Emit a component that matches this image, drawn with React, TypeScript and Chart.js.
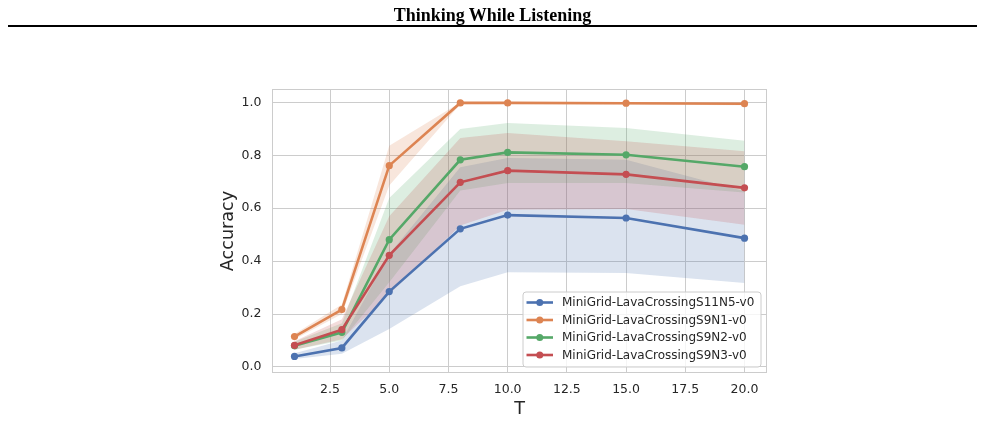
import React, { useEffect, useRef } from "react";
import { Chart, registerables } from "chart.js";

Chart.register(...registerables);

// ---- data ----
const T = [1, 3, 5, 8, 10, 15, 20];

const seriesNames = [
  "MiniGrid-LavaCrossingS11N5-v0",
  "MiniGrid-LavaCrossingS9N1-v0",
  "MiniGrid-LavaCrossingS9N2-v0",
  "MiniGrid-LavaCrossingS9N3-v0",
];

const s11n5Mean = [0.040, 0.072, 0.285, 0.522, 0.574, 0.563, 0.487];
const s11n5Lower = [0.030, 0.050, 0.144, 0.305, 0.358, 0.355, 0.317];
const s11n5Upper = [0.052, 0.100, 0.426, 0.755, 0.790, 0.783, 0.664];

const s9n1Mean = [0.115, 0.217, 0.761, 0.998, 0.998, 0.997, 0.995];
const s9n1Lower = [0.105, 0.200, 0.686, 0.993, 0.994, 0.992, 0.989];
const s9n1Upper = [0.125, 0.236, 0.836, 1.000, 1.000, 1.000, 1.000];

const s9n2Mean = [0.080, 0.131, 0.481, 0.783, 0.811, 0.802, 0.757];
const s9n2Lower = [0.065, 0.100, 0.320, 0.667, 0.695, 0.695, 0.659];
const s9n2Upper = [0.095, 0.165, 0.639, 0.899, 0.922, 0.903, 0.855];

const s9n3Mean = [0.082, 0.141, 0.422, 0.698, 0.742, 0.728, 0.677];
const s9n3Lower = [0.065, 0.105, 0.275, 0.535, 0.594, 0.597, 0.538];
const s9n3Upper = [0.097, 0.180, 0.570, 0.865, 0.884, 0.853, 0.815];

const xTicks = [2.5, 5.0, 7.5, 10.0, 12.5, 15.0, 17.5, 20.0];
const yTicks = [0.0, 0.2, 0.4, 0.6, 0.8, 1.0];

const colors = ["#4C72B0", "#DD8452", "#55A868", "#C44E52"];
const bandColors = [
  "rgba(76,114,176,0.2)",
  "rgba(221,132,82,0.2)",
  "rgba(85,168,104,0.2)",
  "rgba(196,78,82,0.2)",
];

const means = [s11n5Mean, s9n1Mean, s9n2Mean, s9n3Mean];
const lowers = [s11n5Lower, s9n1Lower, s9n2Lower, s9n3Lower];
const uppers = [s11n5Upper, s9n1Upper, s9n2Upper, s9n3Upper];

const TEXT = "#262626";
const GRID = "#cccccc";
const FONT = "'DejaVu Sans', sans-serif";

const pts = (arr: number[]) => T.map((t, i) => ({ x: t, y: arr[i] }));

function roundRect(ctx: CanvasRenderingContext2D, x: number, y: number, w: number, h: number, r: number) {
  ctx.beginPath();
  ctx.moveTo(x + r, y);
  ctx.arcTo(x + w, y, x + w, y + h, r);
  ctx.arcTo(x + w, y + h, x, y + h, r);
  ctx.arcTo(x, y + h, x, y, r);
  ctx.arcTo(x, y, x + w, y, r);
  ctx.closePath();
}

const decorPlugin = {
  id: "decor",
  beforeDatasetsDraw(chart: any) {
    const { ctx, chartArea: a } = chart;
    ctx.save();
    ctx.strokeStyle = GRID;
    ctx.lineWidth = 1;
    ctx.strokeRect(a.left + 0.5, a.top + 0.5, a.right - a.left - 1, a.bottom - a.top - 1);
    ctx.restore();
  },
  afterDraw(chart: any) {
    const { ctx, chartArea: a } = chart;
    ctx.save();
    // axis titles
    ctx.fillStyle = TEXT;
    ctx.font = `17.6px ${FONT}`;
    ctx.textAlign = "center";
    ctx.textBaseline = "alphabetic";
    ctx.fillText("T", (a.left + a.right) / 2, a.bottom + 41.3);
    ctx.save();
    ctx.translate(a.left - 39.5, (a.top + a.bottom) / 2);
    ctx.rotate(-Math.PI / 2);
    ctx.fillText("Accuracy", 0, 0);
    ctx.restore();

    // legend
    const boxW = 238;
    const boxH = 75;
    const bx = a.right - 6.5 - boxW;
    const by = a.bottom - 6.5 - boxH;
    roundRect(ctx, bx + 0.5, by + 0.5, boxW, boxH, 3);
    ctx.fillStyle = "rgba(255,255,255,0.8)";
    ctx.fill();
    ctx.strokeStyle = GRID;
    ctx.lineWidth = 1;
    ctx.stroke();
    ctx.font = `12px ${FONT}`;
    ctx.textAlign = "left";
    ctx.textBaseline = "middle";
    seriesNames.forEach((name, i) => {
      const yy = by + 11 + i * 17.5;
      ctx.strokeStyle = colors[i];
      ctx.lineWidth = 2.6;
      ctx.lineCap = "butt";
      ctx.beginPath();
      ctx.moveTo(bx + 4, yy);
      ctx.lineTo(bx + 30.5, yy);
      ctx.stroke();
      ctx.fillStyle = colors[i];
      ctx.beginPath();
      ctx.arc(bx + 17.25, yy, 3.5, 0, Math.PI * 2);
      ctx.fill();
      ctx.fillStyle = TEXT;
      ctx.fillText(name, bx + 39.5, yy + 0.5);
    });
    ctx.restore();
  },
};

export default function App() {
  const ref = useRef<HTMLCanvasElement>(null);

  useEffect(() => {
    if (!ref.current) return;
    const order = [3, 2, 1, 0];
    const lineSets = order.map((i) => ({
      label: seriesNames[i],
      data: pts(means[i]),
      borderColor: colors[i],
      backgroundColor: colors[i],
      borderWidth: 2.6,
      pointRadius: 3.6,
      pointBorderWidth: 0,
      pointBackgroundColor: colors[i],
      fill: false,
      tension: 0,
    }));
    const bandSets: any[] = [];
    order.forEach((i) => {
      bandSets.push({
        label: seriesNames[i] + " lower",
        data: pts(lowers[i]),
        borderColor: "rgba(0,0,0,0)",
        borderWidth: 1,
        pointRadius: 0,
        fill: false,
      });
      bandSets.push({
        label: seriesNames[i] + " upper",
        data: pts(uppers[i]),
        borderColor: "rgba(0,0,0,0)",
        borderWidth: 1,
        pointRadius: 0,
        backgroundColor: bandColors[i],
        fill: "-1",
      });
    });

    const tickFont = { family: FONT, size: 12.5 };
    const chart = new Chart(ref.current, {
      type: "line",
      data: { datasets: [...lineSets, ...bandSets] as any },
      options: {
        responsive: false,
        animation: false,
        events: [],
        layout: { padding: { left: 200, right: 218, top: 89, bottom: 0 } },
        plugins: {
          legend: { display: false },
          tooltip: { enabled: false },
          filler: { drawTime: "beforeDatasetsDraw" },
        } as any,
        scales: {
          x: {
            type: "linear",
            min: 0.05,
            max: 20.95,
            afterBuildTicks: (s: any) => {
              s.ticks = xTicks.map((v) => ({ value: v }));
            },
            afterFit: (s: any) => {
              s.height = 48;
            },
            grid: { color: GRID, lineWidth: 1, drawTicks: false },
            border: { display: false },
            ticks: {
              padding: 9.5,
              color: TEXT,
              font: tickFont,
              autoSkip: false,
              maxRotation: 0,
              callback: (v: any) => Number(v).toFixed(1),
            },
          },
          y: {
            type: "linear",
            min: -0.0227,
            max: 1.0506,
            afterBuildTicks: (s: any) => {
              s.ticks = yTicks.map((v) => ({ value: v }));
            },
            afterFit: (s: any) => {
              s.width = 72;
            },
            grid: { color: GRID, lineWidth: 1, drawTicks: false },
            border: { display: false },
            ticks: {
              padding: 10.5,
              color: TEXT,
              font: tickFont,
              autoSkip: false,
              callback: (v: any) => Number(v).toFixed(1),
            },
          },
        },
      },
      plugins: [decorPlugin],
    });
    return () => chart.destroy();
  }, []);

  return (
    <div>
      <div
        style={{
          position: "fixed",
          left: 0,
          top: 6,
          width: 985,
          textAlign: "center",
          fontFamily: "'Liberation Serif', 'Times New Roman', serif",
          fontWeight: "bold",
          fontSize: 18,
          lineHeight: "18px",
          color: "#000",
          zIndex: 2,
        }}
      >
        Thinking While Listening
      </div>
      <div
        style={{
          position: "fixed",
          left: 8,
          top: 25,
          width: 969,
          height: 2,
          background: "#000",
          zIndex: 2,
        }}
      />
      <canvas
        ref={ref}
        width={985}
        height={421}
        style={{ position: "fixed", left: 0, top: 0, width: 985, height: 421 }}
      />
    </div>
  );
}
